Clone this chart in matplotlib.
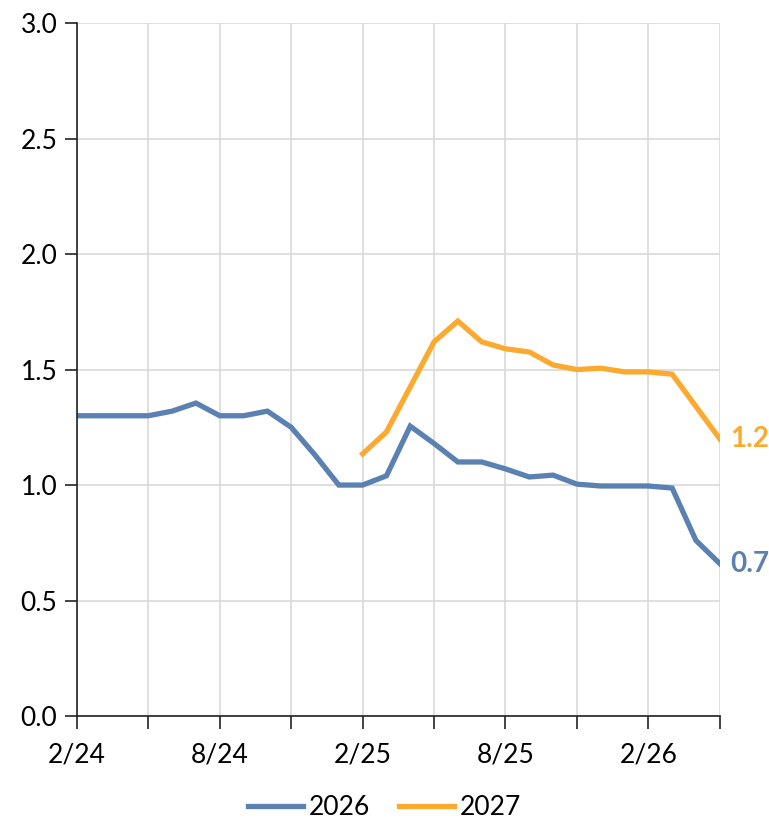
import matplotlib.pyplot as plt
import numpy as np

plt.rcParams['font.family'] = ['Lato', 'DejaVu Sans']

# monthly observations, Feb 2024 .. May 2026
months = np.arange(28)
y2026 = [1.30, 1.30, 1.30, 1.30, 1.32, 1.355, 1.30, 1.30, 1.32, 1.25,
         1.13, 1.00, 1.00, 1.04, 1.255, 1.18, 1.10, 1.10, 1.07, 1.035,
         1.043, 1.004, 0.996, 0.996, 0.996, 0.987, 0.76, 0.66]
# 2027 forecasts begin in Feb 2025
start_2027 = 12
y2027 = [1.135, 1.23, 1.425, 1.62, 1.71, 1.62, 1.59, 1.576, 1.52, 1.50,
         1.506, 1.49, 1.49, 1.48, 1.34, 1.20]

tick_pos = np.arange(0, 28, 3)
tick_labels = ['2/24', '', '8/24', '', '2/25', '', '8/25', '', '2/26', '']

blue = '#5b80b2'
orange = '#fcaa2f'

fig = plt.figure(figsize=(7.69, 8.24), dpi=100)
ax = fig.add_axes([0.100, 0.131, 0.836, 0.841])

ax.plot(months, y2026, color=blue, lw=3.8, label='2026', solid_joinstyle='miter')
ax.plot(months[start_2027:], y2027, color=orange, lw=3.8, label='2027', solid_joinstyle='miter')

ax.set_xlim(0, 27)
ax.set_ylim(0, 3.0)
ax.set_yticks(np.arange(0, 3.01, 0.5))
ax.set_yticklabels([f'{v:.1f}' for v in np.arange(0, 3.01, 0.5)])
ax.set_xticks(tick_pos)
ax.set_xticklabels(tick_labels)

ax.grid(True, color='#d9d9d9', lw=1.2)
ax.set_axisbelow(True)
for s in ['top', 'right']:
    ax.spines[s].set_visible(False)
for s in ['left', 'bottom']:
    ax.spines[s].set_color('#222222')
    ax.spines[s].set_linewidth(1.2)

ax.tick_params(axis='y', length=9, width=1.2, color='#222222', labelsize=19, pad=5)
ax.tick_params(axis='x', length=9, width=1.2, color='#222222', labelsize=19, pad=10)

ax.text(27.45, y2026[-1], f'{y2026[-1]:.1f}', color=blue, fontsize=20,
        fontweight='bold', va='center', ha='left', clip_on=False)
ax.text(27.45, y2027[-1], f'{y2027[-1]:.1f}', color=orange, fontsize=20,
        fontweight='bold', va='center', ha='left', clip_on=False)

fig.legend(loc='lower center', bbox_to_anchor=(0.5, -0.024), ncol=2, frameon=False,
           fontsize=19, handlelength=2.1, columnspacing=1.1, handletextpad=0.2)

fig.savefig('out.png', dpi=100)
